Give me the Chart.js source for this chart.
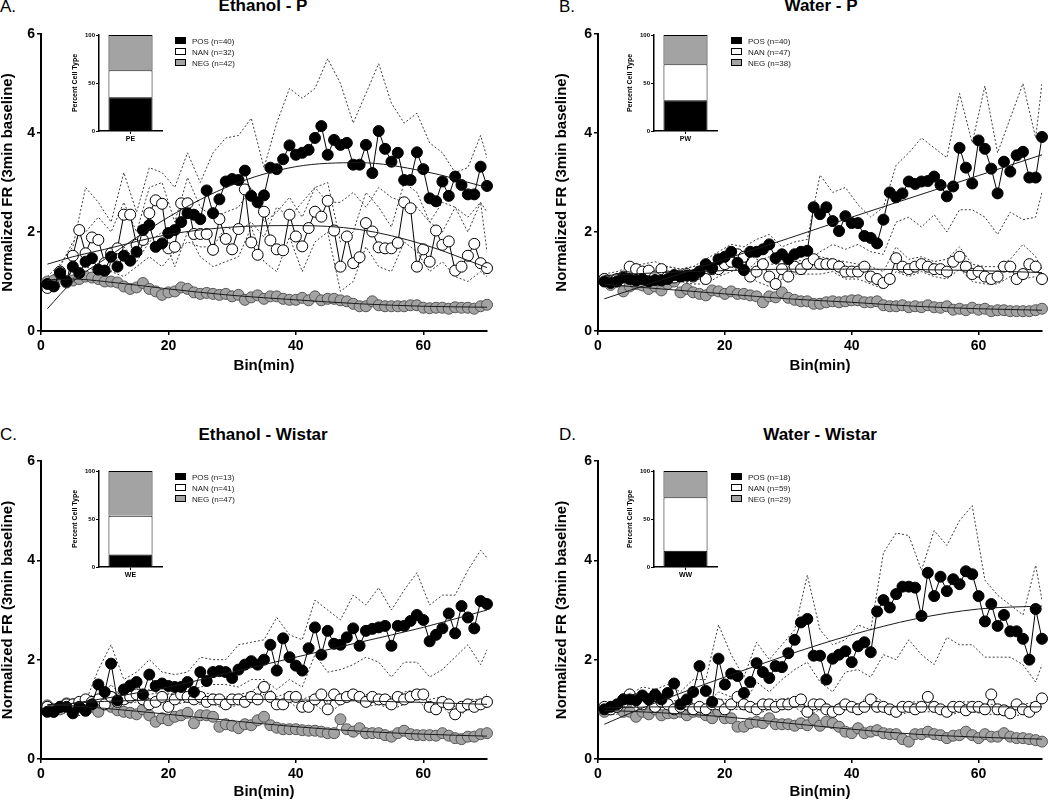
<!DOCTYPE html>
<html>
<head>
<meta charset="utf-8">
<script src="https://cdn.jsdelivr.net/npm/chart.js@4.4.1/dist/chart.umd.min.js"></script>
<style>
body { margin:0; width:1050px; height:801px; position:relative; background:#fff; overflow:hidden;
       font-family:"Liberation Sans", Arial, sans-serif; }
canvas { position:absolute; }
.ttl { position:absolute; font-weight:bold; font-size:17px; transform:translate(-50%,-50%); white-space:nowrap; }
.lett { position:absolute; font-size:17px; transform:translateY(-50%); }
.leg { position:absolute; font-size:8px; color:#222; line-height:11px; white-space:nowrap; }
.sw { display:inline-block; width:9px; height:5px; border:1px solid #000; margin-right:6px; vertical-align:0px; }
</style>
</head>
<body>
<div class="lett" style="left:0px;top:7px">A.</div>
<div class="ttl" style="left:263px;top:6px">Ethanol - P</div>
<div class="lett" style="left:559px;top:7px">B.</div>
<div class="ttl" style="left:821px;top:6px">Water - P</div>
<div class="lett" style="left:0px;top:435px">C.</div>
<div class="ttl" style="left:263px;top:435px">Ethanol - Wistar</div>
<div class="lett" style="left:559px;top:435px">D.</div>
<div class="ttl" style="left:820px;top:435px">Water - Wistar</div>

<canvas id="cA" width="525" height="400" style="left:0px;top:0px"></canvas>
<canvas id="cB" width="496" height="400" style="left:554px;top:0px"></canvas>
<canvas id="cC" width="525" height="401" style="left:0px;top:400px"></canvas>
<canvas id="cD" width="496" height="401" style="left:554px;top:400px"></canvas>

<canvas id="iA" width="100" height="125" style="left:66px;top:25px"></canvas>
<canvas id="iB" width="100" height="125" style="left:621px;top:25px"></canvas>
<canvas id="iC" width="100" height="125" style="left:66px;top:461px"></canvas>
<canvas id="iD" width="100" height="125" style="left:621px;top:461px"></canvas>

<script>
// cell types and colours
var cellTypes = ['POS', 'NAN', 'NEG'];
var cellFill = ['#000000', '#ffffff', '#a3a3a3'];

var bins = [1,2,3,4,5,6,7,8,9,10,11,12,13,14,15,16,17,18,19,20,21,22,23,24,25,26,27,28,29,30,
            31,32,33,34,35,36,37,38,39,40,41,42,43,44,45,46,47,48,49,50,51,52,53,54,55,56,57,58,59,60,
            61,62,63,64,65,66,67,68,69,70];
var bandBins = [1,3,5,7,9,11,13,15,17,19,21,23,25,27,29,31,33,35,37,39,41,43,45,47,49,51,53,55,57,59,61,63,65,67,69,70];
var fitBins = [1,5,10,20,30,40,50,60,70];

// A. Ethanol - P
var aPos = [0.95,0.9,1.17,1.0,1.3,1.17,1.4,1.47,1.24,1.22, 1.5,1.3,1.52,1.42,1.6,2.04,2.14,1.7,1.77,1.98,
            2.04,2.2,2.38,2.35,2.26,2.84,2.38,2.66,3.02,3.07, 3.05,3.24,2.73,2.6,2.74,3.3,3.27,3.47,3.75,3.56,
            3.6,3.66,3.9,4.14,3.56,3.86,3.76,3.8,3.36,3.36, 3.76,3.19,4.04,3.68,3.42,3.6,3.05,3.05,3.61,3.27,
            2.68,2.62,3.02,2.73,3.12,2.95,2.76,2.76,3.32,2.93];
var aNan = [0.87,0.93,1.2,1.0,1.52,2.04,1.57,1.89,1.84,1.37, 1.57,1.67,2.35,2.35,1.74,1.84,2.38,2.64,2.57,1.67,
            1.7,2.58,2.58,1.96,1.96,1.96,1.64,2.26,1.86,1.65, 2.06,2.86,1.79,1.54,2.41,1.83,1.65,1.63,2.35,1.91,
            1.71,2.08,2.41,2.31,2.63,2.03,1.3,1.91,1.37,1.49, 2.18,2.01,1.69,1.67,1.67,1.78,2.6,2.48,1.3,1.65,
            1.4,2.03,1.74,1.81,1.22,1.3,1.52,1.76,1.37,1.27];
var aNeg = [1.0,1.02,1.15,0.98,1.02,1.05,1.1,1.08,1.05,1.0, 1.0,0.98,0.9,0.85,0.88,0.97,0.85,0.8,0.73,0.78,
            0.8,0.88,0.85,0.78,0.75,0.77,0.75,0.73,0.75,0.7, 0.73,0.63,0.68,0.72,0.65,0.7,0.7,0.65,0.63,0.63,
            0.67,0.62,0.7,0.62,0.65,0.65,0.62,0.6,0.55,0.5, 0.5,0.6,0.52,0.5,0.5,0.5,0.5,0.52,0.52,0.47,
            0.46,0.47,0.47,0.45,0.48,0.47,0.47,0.45,0.5,0.53];
var aPosHi = [1.1,1.35,1.7,2.9,2.6,2.2,3.2,2.4,3.3,3.2,2.9,3.6,3.0,3.6,3.9,3.95,4.3,3.3,4.2,4.9,4.7,4.9,5.5,5.0,4.2,4.8,5.4,4.6,4.2,4.4,3.8,3.6,3.2,3.3,3.95,3.5];
var aPosLo = [0.8,0.9,0.95,1.1,1.05,1.2,1.1,1.3,1.5,1.3,1.6,1.8,1.7,1.7,2.1,2.0,2.2,1.9,2.5,2.3,2.6,2.9,2.6,2.6,2.8,2.5,2.9,2.7,2.6,2.5,2.2,2.0,2.5,2.3,2.6,2.4];
var aNanHi = [1.0,1.3,1.8,2.0,2.3,2.0,2.6,2.0,2.9,3.0,2.2,3.1,2.5,2.3,2.4,2.5,2.9,2.2,2.4,2.7,2.3,2.9,3.0,1.8,2.0,2.8,2.5,2.1,3.0,2.8,2.2,2.6,2.5,2.0,2.6,1.6];
var aNanLo = [0.8,0.95,1.2,1.3,1.2,1.2,1.7,1.4,1.8,2.0,1.3,2.0,1.5,1.3,1.4,1.5,2.1,1.4,1.2,1.9,1.2,1.8,2.0,0.8,1.0,1.7,1.3,1.2,1.8,1.6,1.2,1.4,1.1,1.0,1.2,1.1];
var aPosFit = [0.45,1.0,1.45,2.3,2.95,3.32,3.4,3.23,2.9];
var aNanFit = [1.35,1.5,1.65,1.95,2.1,2.13,2.05,1.75,1.28];
var aNegFit = [1.02,1.05,1.0,0.85,0.72,0.63,0.55,0.5,0.48];

// B. Water - P
var bPos = [1.0,0.97,1.0,1.08,1.05,1.02,1.05,1.0,1.03,1.02, 1.05,1.13,1.1,1.12,1.12,1.2,1.35,1.27,1.45,1.5,
            1.6,1.38,1.23,1.6,1.6,1.65,1.75,1.47,1.55,1.45, 1.55,1.6,1.62,2.5,2.36,2.5,2.22,2.02,2.32,2.18,
            2.18,1.92,1.88,1.77,2.25,2.8,2.7,2.78,3.02,2.97, 3.02,3.03,3.12,2.95,2.72,2.92,3.7,3.3,2.98,3.85,
            3.68,3.28,2.78,3.42,3.22,3.55,3.62,3.1,3.1,3.92];
var bNan = [1.05,1.0,1.05,1.1,1.3,1.25,1.2,1.22,1.1,1.25, 1.1,1.08,1.12,1.15,1.1,1.2,1.05,1.25,1.25,1.35,
            1.4,1.55,1.5,1.1,1.2,1.35,1.1,0.95,1.25,1.1, 1.3,1.25,1.35,1.45,1.35,1.35,1.35,1.3,1.2,1.2,
            1.2,1.3,1.1,1.05,0.97,1.05,1.47,1.3,1.25,1.3, 1.35,1.3,1.25,1.25,1.2,1.4,1.5,1.3,1.15,1.2,
            1.1,1.05,1.1,1.3,1.3,1.05,1.15,1.35,1.3,1.05];
var bNeg = [1.05,0.93,1.0,0.8,0.9,0.95,0.92,0.85,0.9,0.82, 0.95,1.0,0.78,0.85,0.78,0.75,0.72,0.82,0.8,0.75,
            0.8,0.75,0.75,0.72,0.7,0.58,0.7,0.68,0.78,0.67, 0.63,0.6,0.6,0.55,0.55,0.58,0.6,0.58,0.6,0.62,
            0.62,0.58,0.58,0.6,0.52,0.5,0.5,0.52,0.48,0.5, 0.48,0.52,0.48,0.47,0.5,0.43,0.45,0.42,0.47,0.43,
            0.45,0.4,0.42,0.42,0.4,0.4,0.4,0.4,0.42,0.45];
var bPosHi = [1.1,1.15,1.15,1.2,1.15,1.3,1.25,1.3,1.45,1.6,1.75,1.7,1.85,1.95,1.7,1.8,1.85,3.15,2.8,2.9,2.55,2.3,2.5,3.35,3.6,3.9,3.7,3.5,4.8,3.8,4.95,3.6,4.3,5.0,3.9,5.0];
var bPosLo = [0.9,0.9,0.95,0.9,0.95,0.9,1.0,1.0,1.1,1.2,1.3,1.15,1.4,1.5,1.3,1.3,1.4,1.6,1.75,1.65,1.75,1.6,1.55,2.2,2.3,2.1,2.35,2.0,2.45,2.45,2.3,1.95,2.4,2.25,2.3,2.8];
var bNanHi = [1.15,1.2,1.3,1.35,1.4,1.3,1.25,1.3,1.3,1.4,1.55,1.6,1.45,1.35,1.35,1.4,1.45,1.5,1.45,1.4,1.35,1.3,1.2,1.7,1.45,1.5,1.4,1.45,1.7,1.35,1.3,1.3,1.45,1.75,1.5,1.25];
var bNanLo = [0.95,0.95,1.05,1.05,0.95,0.95,1.0,0.95,0.95,1.1,1.2,1.3,1.0,0.9,1.05,1.15,1.15,1.15,1.2,1.05,1.05,0.95,0.85,1.2,1.1,1.2,1.1,1.05,1.25,1.0,0.95,0.95,1.1,1.05,1.1,0.95];
var bPosFit = [0.65,0.82,1.03,1.45,1.87,2.3,2.72,3.14,3.56];
var bNanFit = [1.12,1.15,1.18,1.22,1.25,1.25,1.24,1.22,1.18];
var bNegFit = [0.95,0.9,0.85,0.75,0.65,0.58,0.5,0.45,0.42];

// C. Ethanol - Wistar
var cPos = [0.95,0.95,1.05,1.05,0.92,1.05,0.97,1.1,1.5,1.35, 1.92,1.18,1.4,1.48,1.55,1.3,1.7,1.47,1.52,1.47,
            1.45,1.45,1.55,1.35,1.75,1.57,1.75,1.77,1.75,1.63, 1.8,1.9,1.97,1.9,2.0,2.3,1.78,2.43,2.05,1.88,
            1.78,2.23,2.65,2.1,2.58,2.32,2.3,2.45,2.63,2.28, 2.58,2.62,2.65,2.68,2.28,2.68,2.68,2.78,2.9,2.8,
            2.37,2.5,2.63,2.93,2.53,3.08,2.85,2.63,3.18,3.12];
var cNan = [1.05,1.0,1.05,1.1,1.1,1.15,1.2,1.15,1.2,1.1, 1.25,1.15,1.2,1.25,1.3,1.2,1.1,1.15,1.25,1.05,
            1.2,1.3,1.25,1.2,1.25,1.15,1.2,1.2,1.1,1.2, 1.2,1.15,1.25,1.2,1.45,1.25,1.1,1.1,1.25,1.25,
            1.05,1.05,1.2,1.3,1.0,1.3,1.2,1.25,1.3,1.25, 1.15,1.25,1.2,1.2,1.1,1.25,1.2,1.25,1.3,1.3,
            1.05,1.0,1.15,1.1,0.9,1.05,1.1,1.05,1.1,1.15];
var cNeg = [1.08,0.95,1.0,1.12,1.1,1.12,1.05,1.05,0.95,1.1, 1.05,0.98,0.95,0.93,0.9,1.0,0.88,0.75,0.82,0.78,
            0.85,0.88,0.93,0.72,0.88,0.88,0.85,0.65,0.7,0.67, 0.62,0.7,0.68,0.78,0.85,0.68,0.63,0.6,0.6,0.6,
            0.58,0.57,0.57,0.55,0.52,0.52,0.8,0.6,0.55,0.62, 0.52,0.52,0.52,0.48,0.45,0.52,0.57,0.5,0.48,0.48,
            0.48,0.47,0.52,0.47,0.42,0.4,0.45,0.45,0.5,0.52];
var cPosHi = [1.0,1.1,1.1,1.15,1.8,2.3,1.6,1.75,2.0,1.75,1.7,1.75,2.05,2.0,2.0,2.3,2.35,2.4,2.85,2.5,2.4,3.2,3.0,2.8,3.3,3.1,3.45,3.0,3.4,3.75,3.1,3.3,3.3,3.8,4.2,4.05];
var cPosLo = [0.9,0.95,0.85,0.9,1.2,1.5,1.2,1.3,1.4,1.3,1.3,1.35,1.45,1.5,1.5,1.45,1.6,1.6,1.4,1.6,1.45,2.1,1.75,1.8,1.9,2.05,1.95,1.65,1.95,1.95,1.65,1.8,2.05,2.3,1.9,2.2];
var cNanHi = [1.1,1.1,1.15,1.25,1.3,1.35,1.3,1.4,1.3,1.35,1.3,1.35,1.35,1.3,1.25,1.3,1.35,1.55,1.25,1.35,1.2,1.3,1.15,1.3,1.4,1.3,1.3,1.25,1.35,1.4,1.2,1.25,1.05,1.2,1.2,1.3];
var cNanLo = [0.95,0.98,1.02,1.1,1.1,1.1,1.1,1.15,1.0,1.1,1.1,1.15,1.1,1.1,1.0,1.1,1.15,1.3,1.0,1.15,0.95,1.1,0.9,1.1,1.2,1.05,1.1,1.0,1.1,1.2,0.95,1.05,0.8,1.0,1.0,1.05];
var cPosFit = [1.05,1.12,1.22,1.45,1.75,2.05,2.35,2.65,3.0];
var cNanFit = [1.08,1.12,1.16,1.19,1.2,1.19,1.17,1.14,1.1];
var cNegFit = [1.1,1.07,1.02,0.9,0.77,0.65,0.56,0.5,0.46];

// D. Water - Wistar
var dPos = [1.0,1.05,1.1,1.2,1.2,1.18,1.28,1.2,1.3,1.2, 1.33,1.52,1.1,1.2,1.35,1.87,1.37,1.15,2.02,1.5,
            1.72,1.67,1.33,1.55,1.93,1.75,1.63,1.87,1.85,2.13, 2.4,2.75,2.82,2.08,2.08,1.6,2.02,2.1,2.17,1.95,
            2.27,2.35,2.15,2.97,3.2,3.05,3.32,3.47,3.47,3.45, 2.88,3.75,3.28,3.67,3.38,3.62,3.52,3.78,3.72,3.28,
            2.77,3.12,2.68,2.9,2.57,2.57,2.42,2.0,3.02,2.42];
var dNan = [1.05,1.0,1.05,1.2,1.3,1.2,1.1,1.2,1.05,1.15, 1.1,1.0,1.05,1.1,1.0,1.05,1.0,1.1,1.1,1.0,
            1.1,1.25,1.1,1.05,1.0,1.1,1.1,1.05,1.1,1.1, 1.15,1.2,0.95,1.1,1.1,1.0,0.95,1.0,1.1,1.05,
            1.0,1.05,1.2,1.05,1.05,1.0,0.95,1.05,1.05,1.0, 1.05,1.25,1.05,1.0,0.95,1.05,1.05,0.98,1.05,1.05,
            1.0,1.3,1.0,0.98,0.92,1.1,1.0,0.95,1.05,1.22];
var dNeg = [0.95,1.0,1.05,0.95,0.95,0.85,0.95,0.9,1.0,0.88, 0.92,0.92,0.95,0.88,0.95,0.95,0.88,0.82,0.95,0.82,
            0.82,0.65,0.65,0.72,0.75,0.72,0.82,0.7,0.7,0.7, 0.67,0.72,0.68,0.8,0.67,0.75,0.72,0.65,0.55,0.52,
            0.62,0.52,0.55,0.58,0.52,0.5,0.5,0.4,0.35,0.5, 0.5,0.55,0.5,0.48,0.42,0.47,0.48,0.55,0.48,0.42,
            0.5,0.45,0.45,0.52,0.45,0.42,0.42,0.4,0.38,0.35];
var dPosHi = [1.1,1.15,1.3,1.45,1.4,1.5,1.35,1.6,1.6,2.7,2.1,1.65,2.35,2.0,2.3,2.6,3.7,2.6,2.3,2.4,2.7,2.6,4.15,4.55,4.5,3.8,4.6,4.3,4.8,5.1,3.6,3.3,3.1,2.9,3.9,3.2];
var dPosLo = [0.9,0.9,1.1,1.1,1.1,1.1,0.85,1.1,1.1,1.35,1.25,1.1,1.55,1.35,1.6,1.8,1.95,1.55,1.35,1.75,1.8,1.65,2.1,2.0,2.4,2.1,1.9,2.45,2.3,2.3,2.05,2.05,2.05,1.9,1.55,1.9];
var dNanHi = [1.1,1.15,1.35,1.2,1.15,1.2,1.15,1.1,1.1,1.2,1.2,1.2,1.1,1.2,1.2,1.25,1.05,1.2,1.05,1.2,1.1,1.3,1.15,1.05,1.15,1.15,1.15,1.05,1.15,1.15,1.1,1.1,1.05,1.1,1.15,1.3];
var dNanLo = [0.95,0.95,1.1,1.0,0.95,1.0,0.95,0.9,0.9,1.0,1.0,1.0,0.9,1.0,1.0,1.05,0.85,1.0,0.85,1.0,0.9,1.1,0.95,0.85,0.95,0.95,0.95,0.85,0.95,0.95,0.9,0.9,0.85,0.9,0.95,1.1];
var dPosFit = [0.7,0.92,1.18,1.65,2.1,2.5,2.82,3.02,3.08];
var dNanFit = [1.03,1.04,1.05,1.05,1.05,1.05,1.05,1.05,1.05];
var dNegFit = [0.98,0.96,0.93,0.85,0.72,0.6,0.5,0.44,0.4];

// insets: percent of cell type and n per group
var aPct = [35.1, 28.1, 36.8];
var bPct = [32.0, 37.6, 30.4];
var cPct = [12.9, 40.6, 46.5];
var dPct = [17.0, 55.7, 27.4];
var aN = [40, 32, 42];
var bN = [40, 47, 38];
var cN = [13, 41, 47];
var dN = [18, 59, 29];

var FONT = '"Liberation Sans", Arial, sans-serif';
Chart.defaults.font.family = FONT;
Chart.defaults.color = '#000';

function xy(xs, ys) {
    return ys.map(function (v, i) { return {x: xs[i], y: v}; });
}

function fitLine(label, vals) {
    return {label: label, data: xy(fitBins, vals), borderColor: '#1a1a1a', borderWidth: 1,
            pointRadius: 0, cubicInterpolationMode: 'monotone', clip: false};
}
function band(label, vals) {
    return {label: label, data: xy(bandBins, vals), borderColor: '#3c3c3c', borderWidth: 1,
            borderDash: [2, 2], pointRadius: 0, tension: 0};
}
function points(label, vals, fill, edge, line) {
    return {label: label, data: xy(bins, vals), borderColor: line, borderWidth: 1,
            pointRadius: 5.5, pointBorderWidth: 1, pointBackgroundColor: fill,
            pointBorderColor: edge, tension: 0, clip: false};
}

function panel(id, d, lay) {
    var ctx = document.getElementById(id).getContext('2d');
    return new Chart(ctx, {
        type: 'line',
        data: {
            datasets: [
                fitLine('POS fit', d.posFit),
                fitLine('NAN fit', d.nanFit),
                fitLine('NEG fit', d.negFit),
                points('POS', d.pos, cellFill[0], '#000', '#000'),
                points('NAN', d.nan, cellFill[1], '#000', '#000'),
                points('NEG', d.neg, cellFill[2], '#555', '#555'),
                band('POS upper', d.posHi),
                band('POS lower', d.posLo),
                band('NAN upper', d.nanHi),
                band('NAN lower', d.nanLo)
            ]
        },
        options: {
            responsive: false,
            animation: false,
            events: [],
            layout: {padding: {top: lay.top, right: lay.right, left: 0, bottom: 0}},
            plugins: {legend: {display: false}, tooltip: {enabled: false}},
            scales: {
                x: {
                    type: 'linear', min: 0, max: 70,
                    ticks: {stepSize: 20, includeBounds: false, maxRotation: 0, padding: 3,
                            font: {size: 14, weight: 'bold'}},
                    grid: {drawOnChartArea: false, drawTicks: true, tickLength: 4, color: '#000', lineWidth: 1.5},
                    border: {color: '#000', width: 2},
                    title: {display: true, text: 'Bin(min)', font: {size: 15, weight: 'bold', lineHeight: 1.2},
                            padding: {top: 0, bottom: lay.xPad}},
                    afterFit: function (s) { s.height = lay.xH; }
                },
                y: {
                    min: 0, max: 6,
                    ticks: {stepSize: 2, padding: 2, font: {size: 14, weight: 'bold'}},
                    grid: {drawOnChartArea: false, drawTicks: true, tickLength: 4, color: '#000', lineWidth: 1.5},
                    border: {color: '#000', width: 2},
                    title: {display: true, text: 'Normalized FR (3min baseline)',
                            font: {size: 15, weight: 'bold', lineHeight: 1.07}, padding: 0},
                    afterFit: function (s) { s.width = lay.yW; }
                }
            }
        }
    });
}

function inset(id, label, pct) {
    var ctx = document.getElementById(id).getContext('2d');
    var sets = cellTypes.map(function (t, i) {
        return {label: t, data: [pct[i]], backgroundColor: cellFill[i], borderColor: '#000',
                borderWidth: 1, barPercentage: 0.7, categoryPercentage: 1};
    });
    return new Chart(ctx, {
        type: 'bar',
        data: {labels: [label], datasets: sets},
        options: {
            responsive: false,
            animation: false,
            events: [],
            layout: {padding: {top: 10, right: 4, left: 0, bottom: 0}},
            plugins: {legend: {display: false}, tooltip: {enabled: false}},
            scales: {
                x: {
                    stacked: true,
                    ticks: {padding: 1, font: {size: 7, weight: 'bold'}},
                    grid: {drawOnChartArea: false, drawTicks: true, tickLength: 3, color: '#000', offset: false},
                    border: {color: '#000', width: 1.5},
                    afterFit: function (s) { s.height = 19; }
                },
                y: {
                    stacked: true, min: 0, max: 100,
                    ticks: {stepSize: 50, padding: 1, font: {size: 6, weight: 'bold'}},
                    grid: {drawOnChartArea: false, drawTicks: true, tickLength: 3, color: '#000'},
                    border: {color: '#000', width: 1.5},
                    title: {display: true, text: 'Percent Cell Type', font: {size: 7, weight: 'bold'},
                            padding: {top: 5, bottom: 0}},
                    afterFit: function (s) { s.width = 33; }
                }
            }
        }
    });
}

function legend(left, top, counts) {
    var box = document.createElement('div');
    box.className = 'leg';
    box.style.left = left + 'px';
    box.style.top = top + 'px';
    cellTypes.forEach(function (t, i) {
        var row = document.createElement('div');
        var sw = document.createElement('span');
        sw.className = 'sw';
        sw.style.background = cellFill[i];
        row.appendChild(sw);
        row.appendChild(document.createTextNode(t + ' (n=' + counts[i] + ')'));
        box.appendChild(row);
    });
    document.body.appendChild(box);
}

var topLay = {top: 34, xH: 69, xPad: 25};
var botLay = {top: 61, xH: 42, xPad: 0};

panel('cA', {pos: aPos, nan: aNan, neg: aNeg, posHi: aPosHi, posLo: aPosLo, nanHi: aNanHi, nanLo: aNanLo,
             posFit: aPosFit, nanFit: aNanFit, negFit: aNegFit},
      {top: topLay.top, xH: topLay.xH, xPad: topLay.xPad, right: 38, yW: 41});
panel('cB', {pos: bPos, nan: bNan, neg: bNeg, posHi: bPosHi, posLo: bPosLo, nanHi: bNanHi, nanLo: bNanLo,
             posFit: bPosFit, nanFit: bNanFit, negFit: bNegFit},
      {top: topLay.top, xH: topLay.xH, xPad: topLay.xPad, right: 8, yW: 44});
panel('cC', {pos: cPos, nan: cNan, neg: cNeg, posHi: cPosHi, posLo: cPosLo, nanHi: cNanHi, nanLo: cNanLo,
             posFit: cPosFit, nanFit: cNanFit, negFit: cNegFit},
      {top: botLay.top, xH: botLay.xH, xPad: botLay.xPad, right: 38, yW: 41});
panel('cD', {pos: dPos, nan: dNan, neg: dNeg, posHi: dPosHi, posLo: dPosLo, nanHi: dNanHi, nanLo: dNanLo,
             posFit: dPosFit, nanFit: dNanFit, negFit: dNegFit},
      {top: botLay.top, xH: botLay.xH, xPad: botLay.xPad, right: 8, yW: 44});

inset('iA', 'PE', aPct);
inset('iB', 'PW', bPct);
inset('iC', 'WE', cPct);
inset('iD', 'WW', dPct);

legend(175, 36, aN);
legend(731, 36, bN);
legend(175, 472, cN);
legend(731, 472, dN);
</script>
</body>
</html>
